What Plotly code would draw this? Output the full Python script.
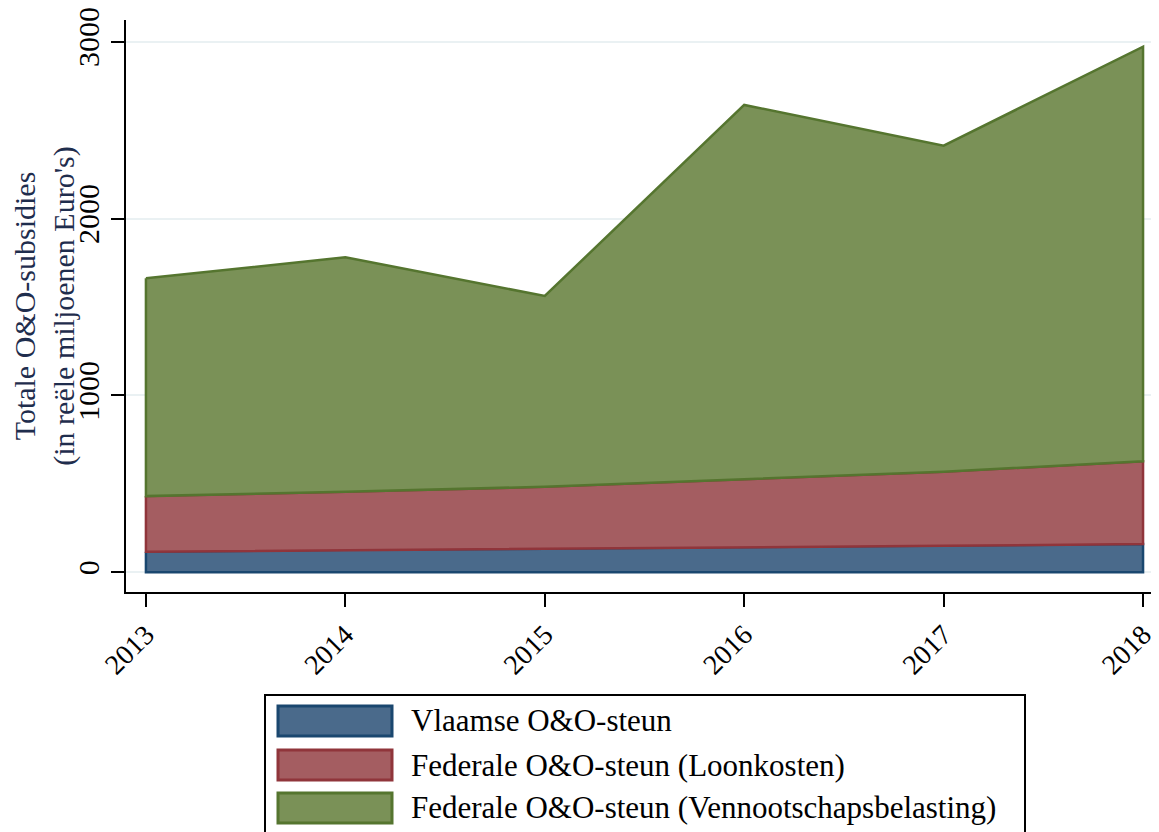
import numpy as np
import plotly.graph_objects as go

years = [2013, 2014, 2015, 2016, 2017, 2018]
vlaamse = [116, 128, 133, 142, 150, 160]
loonkosten = [315, 327, 351, 384, 419, 468]
vennootschap = [1231, 1326, 1078, 2116, 1843, 2343]

series_names = [
    "Vlaamse O&O-steun",
    "Federale O&O-steun (Loonkosten)",
    "Federale O&O-steun (Vennootschapsbelasting)",
]
fill_colors = ["#4a6a8b", "#a45d61", "#7a9157"]
line_colors = ["#1a476f", "#90353b", "#55752f"]

y_ticks = [0, 1000, 2000, 3000]
y_title = "Totale O&O-subsidies<br>(in reële miljoenen Euro's)"

FONT = "Liberation Serif"
OFF = 8  # default page body margin
W, H = 1159 - OFF, 832 - OFF
ML, MR, MT = 126 - OFF, 2, 20 - OFF
MB = H - (592 - OFF)
PW, PH = W - ML - MR, H - MT - MB

fig = go.Figure()
bottom = np.zeros(len(years))
for vals, name, fc, lc in zip([vlaamse, loonkosten, vennootschap], series_names, fill_colors, line_colors):
    top = bottom + np.array(vals)
    xs = years + years[::-1] + [years[0]]
    ys = list(top) + list(bottom[::-1]) + [top[0]]
    fig.add_trace(go.Scatter(
        x=xs, y=ys, mode="lines", fill="toself", fillcolor=fc,
        line=dict(color=lc, width=2.5), name=name, showlegend=False,
        hoverinfo="skip",
    ))
    bottom = top

# manual legend (page pixel helpers -> paper coordinates)
def px(xp):
    return (xp - OFF - ML) / PW

def py(yp):
    return (H - MB - (yp - OFF)) / PH

fig.add_shape(type="rect", xref="paper", yref="paper",
              x0=px(265), x1=px(1025), y0=py(850), y1=py(695),
              line=dict(color="black", width=2), fillcolor="white", layer="above")
row_centers = [721, 765, 808]
for name, fc, lc, yc in zip(series_names, fill_colors, line_colors, row_centers):
    fig.add_shape(type="rect", xref="paper", yref="paper",
                  x0=px(278), x1=px(392), y0=py(yc + 15), y1=py(yc - 15),
                  line=dict(color=lc, width=3), fillcolor=fc, layer="above")
    fig.add_annotation(xref="paper", yref="paper", x=px(409), y=py(yc),
                       text=name, showarrow=False, xanchor="left", yanchor="middle",
                       font=dict(family=FONT, size=31, color="black"))

fig.update_layout(
    width=W, height=H,
    margin=dict(l=ML, r=MR, t=MT, b=MB, autoexpand=False),
    paper_bgcolor="white", plot_bgcolor="white",
    font=dict(family=FONT, color="black"),
    showlegend=False,
)
fig.update_xaxes(
    range=[2012.9, 2018.07], tickvals=years, ticktext=[str(y) for y in years],
    tickangle=-45, tickfont=dict(family=FONT, size=28, color="black"),
    showgrid=False, zeroline=False, automargin=False, ticklabeloverflow="allow",
    showline=True, linecolor="black", linewidth=2,
    ticks="outside", ticklen=13, tickwidth=2, tickcolor="black",
)
fig.update_yaxes(
    range=[-111, 3122], tickvals=y_ticks, tickangle=-90,
    tickfont=dict(family=FONT, size=30, color="black"),
    showgrid=True, gridcolor="#eaf1f3", gridwidth=2, zeroline=False,
    showline=True, linecolor="black", linewidth=2, automargin=False,
    ticklabeloverflow="allow",
    ticks="outside", ticklen=13, tickwidth=2, tickcolor="black",
    title=dict(text=y_title, font=dict(family=FONT, size=30, color="#1f2d4d"), standoff=3),
)

fig.write_html("out.html")
